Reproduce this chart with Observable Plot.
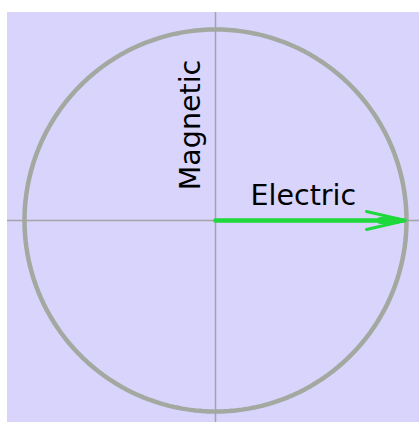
<!DOCTYPE html>
<html>
<head>
<meta charset="utf-8">
<script src="https://cdn.jsdelivr.net/npm/d3@7"></script>
<script src="https://cdn.jsdelivr.net/npm/@observablehq/plot@0.6"></script>
<style>
  html, body { margin: 0; padding: 0; background: #ffffff; }
  #chart { position: absolute; left: 7px; top: 12px; }
  #chart svg { background: #d8d4fc; display: block; }
</style>
</head>
<body>
<div id="chart"></div>
<script>
// Field vectors (unit magnitude) and their labels
const vectorNames = ["Electric"];
const vectorX = [1];
const vectorY = [0];
const labelNames = ["Electric", "Magnetic"];
const labelX = [0.46, 0];
const labelY = [0, 0.5];
const labelRotate = [0, -90];
const magnitude = [1];

const vectors = vectorNames.map((n, i) => ({name: n, x: vectorX[i], y: vectorY[i]}));
const labels = labelNames.map((n, i) => ({name: n, x: labelX[i], y: labelY[i], rotate: labelRotate[i]}));
// Circle of constant magnitude (geometric locus)
const circle = d3.range(0, 361, 2).map(a => ({
  x: magnitude[0] * Math.cos(a * Math.PI / 180),
  y: magnitude[0] * Math.sin(a * Math.PI / 180)
}));

const plot = Plot.plot({
  width: 412,
  height: 410,
  marginLeft: 17,
  marginRight: 13,
  marginTop: 17,
  marginBottom: 11,
  x: {domain: [-1, 1], axis: null},
  y: {domain: [-1, 1], axis: null},
  style: {fontFamily: "DejaVu Sans", background: "#d8d4fc"},
  marks: [
    Plot.ruleX([0], {stroke: "#a4a4a8", strokeWidth: 1.5, insetTop: -20, insetBottom: -20}),
    Plot.ruleY([0], {stroke: "#a4a4a8", strokeWidth: 1.5, insetLeft: -20, insetRight: -20}),
    Plot.line(circle, {x: "x", y: "y", stroke: "#a3a8a0", strokeWidth: 4.5}),
    Plot.arrow(vectors, {x1: 0, y1: 0, x2: "x", y2: "y", stroke: "#1ed83c", strokeWidth: 3, headLength: 20, headAngle: 26, insetEnd: 1}),
    Plot.arrow(vectors, {x1: 0, y1: 0, x2: "x", y2: "y", stroke: "#1ed83c", strokeWidth: 4.5, headLength: 0, insetEnd: 3}),
    Plot.arrow(vectors, {x1: 0, y1: 0, x2: "x", y2: "y", stroke: "#1ed83c", strokeWidth: 7, headLength: 0, insetStart: 165, insetEnd: 10}),
    Plot.text(labels.filter(d => d.rotate === 0), {x: "x", y: "y", text: "name", fontSize: 28.5, fill: "#000", dy: -25}),
    Plot.text(labels.filter(d => d.rotate !== 0), {x: "x", y: "y", text: "name", fontSize: 28.5, fill: "#000", rotate: -90, dx: -25})
  ]
});
document.getElementById("chart").appendChild(plot);
</script>
</body>
</html>
